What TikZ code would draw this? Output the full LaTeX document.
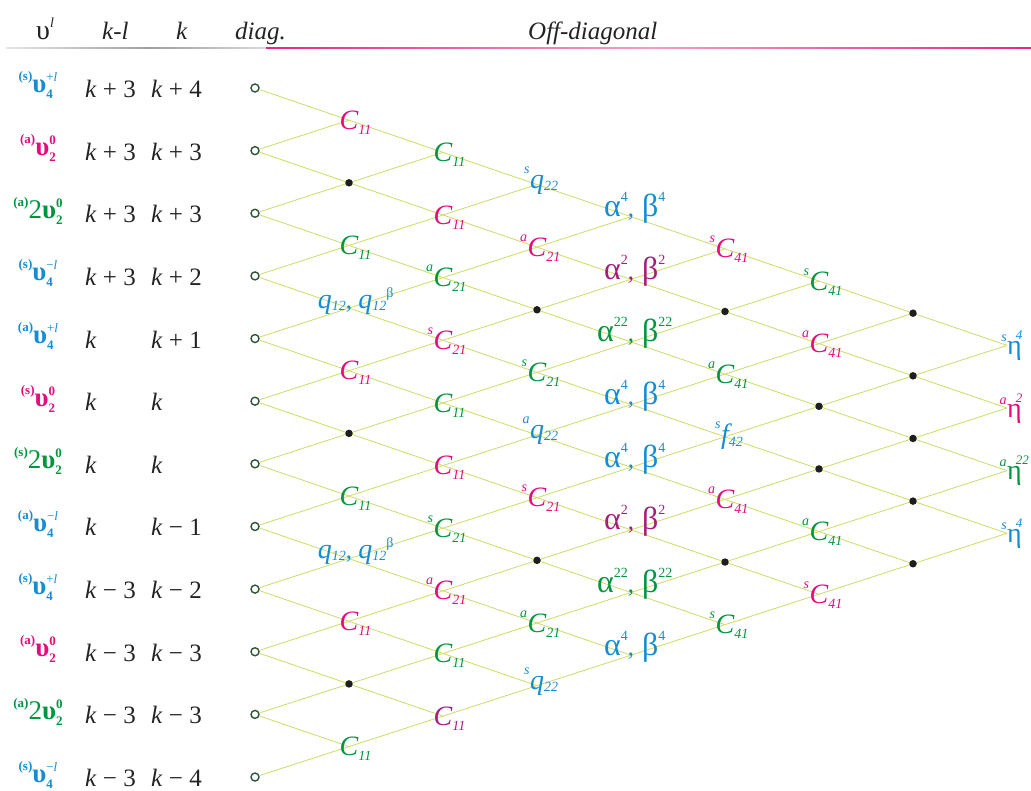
\documentclass[tikz,border=0pt]{standalone}
\usepackage{fontspec}
\setmainfont{Liberation Serif}
\definecolor{magc}{RGB}{230,10,126}
\definecolor{grnc}{RGB}{0,150,64}
\definecolor{bluc}{RGB}{22,140,210}
\definecolor{purc}{RGB}{165,30,125}
\definecolor{latc}{RGB}{208,220,110}
\definecolor{ringc}{RGB}{45,85,60}
\definecolor{dotc}{RGB}{30,30,30}
\definecolor{txtc}{RGB}{35,35,35}
\definecolor{rulem}{RGB}{228,40,130}

% script size for indices
\newcommand\lsm{\fontsize{14}{16}\selectfont}
% size of the lattice symbols
\newcommand\lbig{\fontsize{28}{30}\selectfont}
% left prefix (s / a), raised
\newcommand\pfx[2][15pt]{\smash{\llap{\lsm\itshape\raisebox{#1}{#2}\kern0.5pt}}}
% right subscript, lowered
\newcommand\sfx[2][5pt]{\smash{\rlap{\lsm\itshape\raisebox{-#1}{#2}}}}
\newcommand\CC[2]{\pfx{#1}{\lbig\itshape C}\sfx{#2}}
\newcommand\FF[2]{\pfx{#1}{\lbig\itshape f}\sfx[3pt]{#2}}
\newcommand\QQ[2]{\pfx{#1}{\lbig\itshape q}\sfx[2pt]{#2}}
% alpha/beta pair centred on the comma
\newcommand\AB[2]{\llap{\fontsize{32}{34}\selectfont α\raisebox{15pt}{\lsm #1}},\rlap{\fontsize{32}{34}\selectfont\ β\raisebox{15pt}{\lsm #2}}}
% q12, q12^beta pair centred on the comma
\newcommand\QB{\llap{{\lbig\itshape q}\raisebox{-2pt}{\lsm\itshape 12}},\rlap{\ {\lbig\itshape q}\raisebox{-2pt}{\lsm\itshape 12}\raisebox{11pt}{\lsm β}}}
% eta terms of the last column
\newcommand\ET[2]{\pfx[13pt]{#1}{\fontsize{28}{30}\selectfont η}\kern-6pt\raisebox{15pt}{\fontsize{13}{15}\selectfont\itshape #2}}
% vibrational level labels
\newcommand\UU[4]{{\fontsize{13}{15}\selectfont\bfseries\raisebox{12pt}{(#1)}}{\fontsize{27}{29}\selectfont #2\bfseries υ}\rlap{\fontsize{13}{15}\selectfont\bfseries\raisebox{-6pt}{#3}}\raisebox{11pt}{\fontsize{13}{15}\selectfont #4}}

\tikzset{
  lat/.style={draw=latc, line width=0.85pt},
  ring/.style={circle, draw=ringc, line width=1.4pt, fill=white, inner sep=0pt, minimum size=8pt},
  dot/.style={circle, fill=dotc, inner sep=0pt, minimum size=7.5pt},
  lab/.style={inner sep=0pt, font=\fontsize{25}{30}\selectfont},
  hd/.style={inner sep=0pt, text=txtc, font=\fontsize{25}{30}\selectfont},
  mag/.style={lab, text=magc},
  grn/.style={lab, text=grnc},
  blu/.style={lab, text=bluc},
  pur/.style={lab, text=purc},
  pair/.style={anchor=base},
  eta/.style={anchor=base west, yshift=-9pt}
}

\begin{document}
\begin{tikzpicture}[x=1pt,y=-1pt]
\useasboundingbox (0,0) rectangle (1031,791);

% header
\node[hd, anchor=base west] (h1) at (36,40) {{\fontsize{28}{30}\selectfont υ}\raisebox{12pt}{\lsm\itshape l}};
\node[hd, anchor=base west] (h2) at (102,40) {\itshape k-l};
\node[hd, anchor=base west] (h3) at (176,40) {\itshape k};
\node[hd, anchor=base west] (h4) at (235,40) {\itshape diag.};
\node[hd, anchor=base west] (h5) at (528,40) {\itshape Off-diagonal};
\shade[left color=gray!20, right color=gray!75] (6,47.3) rectangle (150,48.7);
\shade[left color=gray!75, right color=gray!30] (150,47.3) rectangle (266,48.7);
\shade[left color=rulem, right color=rulem!45] (266,47.2) rectangle (650,48.8);
\shade[left color=rulem!45, right color=rulem] (650,47.2) rectangle (1031,48.8);

% lattice points: column j, half-row m
\foreach \j in {0,...,8}{
  \pgfmathtruncatemacro{\mb}{\j+2}
  \pgfmathtruncatemacro{\me}{22-\j}
  \foreach \m in {\j,\mb,...,\me}{
    \ifnum\j=0
      \node[ring] (p\j-\m) at ({255+94*\j},{88+31.32*\m+0.85*\j}) {};
    \else
      \coordinate (p\j-\m) at ({255+94*\j},{88+31.32*\m+0.85*\j});
    \fi
  }
}

% lattice links
\foreach \j in {0,...,7}{
  \pgfmathtruncatemacro{\jn}{\j+1}
  \pgfmathtruncatemacro{\mb}{\j+2}
  \pgfmathtruncatemacro{\me}{22-\j}
  \foreach \m in {\j,\mb,...,\me}{
    \pgfmathtruncatemacro{\mdn}{\m+1}
    \pgfmathtruncatemacro{\mup}{\m-1}
    \ifnum\m<\numexpr21-\j\relax \draw[lat] (p\j-\m) -- (p\jn-\mdn); \fi
    \ifnum\m>\numexpr\j+1\relax \draw[lat] (p\j-\m) -- (p\jn-\mup); \fi
  }
}

% row labels
\foreach \ri/\rc/\rp/\rf/\rs/\ru/\ka/\kb in {
  0/bluc/s//4/{+\textit{l}}/{\textit{k} + 3}/{\textit{k} + 4},
  1/magc/a//2/{\bfseries 0}/{\textit{k} + 3}/{\textit{k} + 3},
  2/grnc/a/2/2/{\bfseries 0}/{\textit{k} + 3}/{\textit{k} + 3},
  3/bluc/s//4/{−\textit{l}}/{\textit{k} + 3}/{\textit{k} + 2},
  4/bluc/a//4/{+\textit{l}}/{\textit{k}}/{\textit{k} + 1},
  5/magc/s//2/{\bfseries 0}/{\textit{k}}/{\textit{k}},
  6/grnc/s/2/2/{\bfseries 0}/{\textit{k}}/{\textit{k}},
  7/bluc/a//4/{−\textit{l}}/{\textit{k}}/{\textit{k} − 1},
  8/bluc/s//4/{+\textit{l}}/{\textit{k} − 3}/{\textit{k} − 2},
  9/magc/a//2/{\bfseries 0}/{\textit{k} − 3}/{\textit{k} − 3},
  10/grnc/a/2/2/{\bfseries 0}/{\textit{k} − 3}/{\textit{k} − 3},
  11/bluc/s//4/{−\textit{l}}/{\textit{k} − 3}/{\textit{k} − 4}}{
  \pgfmathsetmacro{\yy}{88+62.64*\ri}
  \node[lab, text=\rc, anchor=base] (u\ri) at (38,\yy+5) {\UU{\rp}{\rf}{\rs}{\ru}};
  \node[lab, text=txtc, anchor=base west] (ka\ri) at (85,\yy+9.5) {\ka};
  \node[lab, text=txtc, anchor=base west] (kb\ri) at (151,\yy+9.5) {\kb};
}

% column 1
\node[mag] (c1-1) at (p1-1) {\CC{}{11}};
\node[dot] (c1-3) at (p1-3) {};
\node[grn] (c1-5) at (p1-5) {\CC{}{11}};
\node[blu,pair] (c1-7) at (p1-7) {\QB};
\node[mag] (c1-9) at (p1-9) {\CC{}{11}};
\node[dot] (c1-11) at (p1-11) {};
\node[grn] (c1-13) at (p1-13) {\CC{}{11}};
\node[blu,pair] (c1-15) at (p1-15) {\QB};
\node[mag] (c1-17) at (p1-17) {\CC{}{11}};
\node[dot] (c1-19) at (p1-19) {};
\node[grn] (c1-21) at (p1-21) {\CC{}{11}};

% column 2
\node[grn] (c2-2) at (p2-2) {\CC{}{11}};
\node[mag] (c2-4) at (p2-4) {\CC{}{11}};
\node[grn] (c2-6) at (p2-6) {\CC{a}{21}};
\node[mag] (c2-8) at (p2-8) {\CC{s}{21}};
\node[grn] (c2-10) at (p2-10) {\CC{}{11}};
\node[mag] (c2-12) at (p2-12) {\CC{}{11}};
\node[grn] (c2-14) at (p2-14) {\CC{s}{21}};
\node[mag] (c2-16) at (p2-16) {\CC{a}{21}};
\node[grn] (c2-18) at (p2-18) {\CC{}{11}};
\node[pur] (c2-20) at (p2-20) {\CC{}{11}};

% column 3
\node[blu] (c3-3) at (p3-3) {\QQ{s}{22}};
\node[mag] (c3-5) at (p3-5) {\CC{a}{21}};
\node[dot] (c3-7) at (p3-7) {};
\node[grn] (c3-9) at (p3-9) {\CC{s}{21}};
\node[blu] (c3-11) at (p3-11) {\QQ{a}{22}};
\node[mag] (c3-13) at (p3-13) {\CC{s}{21}};
\node[dot] (c3-15) at (p3-15) {};
\node[grn] (c3-17) at (p3-17) {\CC{a}{21}};
\node[blu] (c3-19) at (p3-19) {\QQ{s}{22}};

% column 4
\node[blu,pair] (c4-4) at (p4-4) {\AB{4}{4}};
\node[pur,pair] (c4-6) at (p4-6) {\AB{2}{2}};
\node[grn,pair] (c4-8) at (p4-8) {\AB{22}{22}};
\node[blu,pair] (c4-10) at (p4-10) {\AB{4}{4}};
\node[blu,pair] (c4-12) at (p4-12) {\AB{4}{4}};
\node[pur,pair] (c4-14) at (p4-14) {\AB{2}{2}};
\node[grn,pair] (c4-16) at (p4-16) {\AB{22}{22}};
\node[blu,pair] (c4-18) at (p4-18) {\AB{4}{4}};

% column 5
\node[mag] (c5-5) at (p5-5) {\CC{s}{41}};
\node[dot] (c5-7) at (p5-7) {};
\node[grn] (c5-9) at (p5-9) {\CC{a}{41}};
\node[blu] (c5-11) at (p5-11) {\FF{s}{42}};
\node[mag] (c5-13) at (p5-13) {\CC{a}{41}};
\node[dot] (c5-15) at (p5-15) {};
\node[grn] (c5-17) at (p5-17) {\CC{s}{41}};

% column 6
\node[grn] (c6-6) at (p6-6) {\CC{s}{41}};
\node[mag] (c6-8) at (p6-8) {\CC{a}{41}};
\node[dot] (c6-10) at (p6-10) {};
\node[dot] (c6-12) at (p6-12) {};
\node[grn] (c6-14) at (p6-14) {\CC{a}{41}};
\node[mag] (c6-16) at (p6-16) {\CC{s}{41}};

% column 7
\foreach \m in {7,9,11,13,15}{
  \node[dot] (c7-\m) at (p7-\m) {};
}

% column 8
\node[blu,eta] (c8-8) at (p8-8) {\ET{s}{4}};
\node[mag,eta] (c8-10) at (p8-10) {\ET{a}{2}};
\node[grn,eta] (c8-12) at (p8-12) {\ET{a}{22}};
\node[blu,eta] (c8-14) at (p8-14) {\ET{s}{4}};
\end{tikzpicture}
\end{document}
